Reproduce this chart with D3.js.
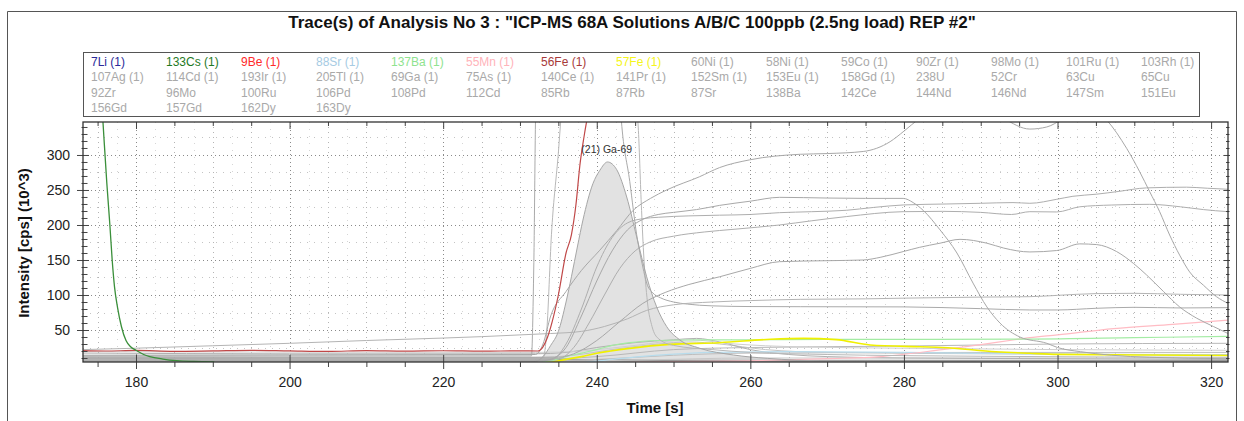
<!DOCTYPE html>
<html lang="en">
<head>
<meta charset="UTF-8" />
<title>Trace(s) of Analysis No 3</title>
<style>
  body { margin: 0; background: #fff; }
  svg { display: block; font-family: "Liberation Sans", Arial, sans-serif; }
  .tick text { font-size: 14px; fill: #222; }
  .tick line { stroke: #444; }
  .trace { fill: none; stroke-linejoin: round; }
</style>
</head>
<body>
<div id="chart"></div>
<script src="https://d3js.org/d3.v7.min.js"></script>
<script>
// ---- data: [time s, intensity 10^3 cps] ----
const cs133 = [[174.8,500],[175.7,347],[176.2,260],[176.6,200],[176.9,150],[177.2,112],[177.6,82],[178.1,55],[178.7,35],[179.3,26],[180,21],[181,15],[181.8,12],[183.5,8.5],[185.3,6.2],[187.5,5],[190.2,4.4]];
const fe56 = [[173.1,20.5],[176,20],[180,20.8],[185,19.6],[190,20.2],[195,20.9],[200,20.1],[205,19.4],[210,20.6],[215,19.8],[220,20.4],[225,19.7],[230,20.3],[232.3,20],[233,26],[233.6,40],[234.2,62],[235,100],[236,160],[236.7,186],[237.3,230],[237.8,285],[238.4,330],[239,370],[239.5,420]];
const ga69 = [[173.1,4.5],[231,4.5],[232,5],[233,12],[234,28],[235,48],[236,90],[236.7,126],[237.5,170],[238.2,207],[239.5,259],[240.4,278],[241.4,290],[242.6,279],[243.9,240],[245.2,183],[246.5,126],[247.8,83],[249.1,55],[250.8,36],[253.4,24],[257.8,14.3],[262.2,9.5],[266,7],[272,5.5],[285,4.8],[322.2,4.5]];
const ba137 = [[173.1,3],[232,3],[234,6],[236,12],[238,17],[240,22],[242,28],[244.3,32],[248,35],[251.7,35.7],[260,36],[270,36.5],[282,36.7],[296.4,37],[310,39],[322.2,41]];
const fe57 = [[173.1,2],[233,3],[236,8],[238,12],[240,16.7],[244.3,23.8],[249.5,29.5],[256,31.9],[262.6,36.7],[266.9,38],[271.2,36.2],[275.6,28.6],[282.1,26],[285,25],[292,19],[296.4,16.7],[300,15.2],[311.6,14.3],[322.2,13.5]];
const mn55 = [[173.1,3],[240,3],[250,5],[260,6],[270,9],[277,12],[285,22],[290,29],[294.2,35.7],[296.4,39],[300,43],[307.3,52],[315,58],[322.2,64]];
const sr88 = [[173.1,2],[236,2],[242,8],[248,14],[255,18],[265,19],[280,18],[295,16],[310,15],[322.2,14]];

const grayHi = [[173.1,14],[200,14.5],[232,15],[233,30],[234,70],[236,105],[238,135],[240.4,164],[242.6,192],[244.75,221],[247,238],[249.1,250],[253.4,269],[256,282],[259.9,293],[266.5,301],[270,302],[274.7,305],[278.2,319],[280,334],[282,352],[285,372],[290,372],[293,352],[296.4,337],[298.6,340],[300.7,352],[303.5,375],[306.4,350],[309,309.5],[310.7,276],[312,247.6],[313.3,219],[314.6,185.7],[315.9,157],[317.2,133],[319,114],[320.7,97.6],[322.2,88]];
const grayE = [[173.1,6],[233,6],[234,8],[236,25],[238,70],[240,120],[242,163],[244,193],[246,208],[248,215],[250,218],[253,222],[256,228],[260,234],[263.8,239.5],[270,238.5],[275,238],[279.9,238],[281.2,232],[282.5,221],[284.7,193],[286.9,160],[289,117],[290.8,83],[292.5,60],[295.1,40],[298.6,31],[300,25],[303,19],[307,14],[312,11],[322.2,9]];
const grayF = [[173.1,7],[234,7],[236,30],[238,80],[240,140],[242,182],[244,203],[246,209],[248,211],[252,213],[256,214],[260,215],[263.8,217.6],[268,219],[272.5,221],[276,225],[279.9,228.6],[285.6,230],[290,231],[294.2,232],[296.4,231],[299.9,236.7],[302,241],[305.1,244],[308,248],[311.6,253],[316.8,254],[319.5,252.5],[322.2,251]];
const grayG = [[173.1,9],[235,9],[237,25],[239,60],[241,100],[243,138],[245,163],[247,176],[250,184],[254,190],[258,194],[263.8,200],[268,206],[272.5,212],[279.9,219],[285,219.5],[290,218],[294,215],[296.4,219],[299.9,218.6],[302.9,226],[307,228.5],[312,229.5],[316,226],[319,222],[322.2,219]];
const grayC = [[173.1,11],[235,11],[237,16],[240,35],[243,62],[246,88],[249,104],[252,115],[256,126],[260,138],[263.8,147.6],[270,149],[274.7,150],[277,154],[279.9,162],[282,168],[284.7,174],[287.3,179.5],[290.8,174],[293,167],[296.4,161.5],[299.9,163.5],[302.9,173],[305.1,172],[307.7,162],[309.9,145],[311.6,128.6],[313.8,105],[315.9,83],[318.1,67],[320.3,55],[322.2,45]];
const grayB = [[173.1,22],[180,24],[190,27.5],[200,31],[210,35],[220,38.5],[225,40.5],[230,43],[234,45],[238,48],[241,55],[244,66],[246.5,78],[250,86],[255,90],[260,92],[266.5,93.8],[275,94.5],[280,95.5],[290,97],[296.4,97.6],[300,99.5],[305,102],[310,102.4],[316,101],[322.2,100]];
const grayA = [[173.1,13],[231.5,13],[231.8,140],[232.1,380],[243,380],[243.2,350],[244.3,262],[245.2,186],[246,140],[246.5,117],[247.3,103],[248.3,96],[250,90],[251.8,87],[255,84.5],[260,83.5],[266.5,83.3],[280,83],[290,80.5],[296.4,78.6],[300,78.6],[305,81],[310,82.4],[316,81.5],[322.2,81.9]];
const grayP = [[173.1,10],[233,10],[233.5,50],[234.1,186],[234.9,290],[235.7,380],[245,380],[245.4,340],[245.8,230],[246.1,160],[246.6,90],[247.2,55],[248,38],[250,28],[255,22],[260,18],[270,15],[290,12.5],[322.2,11]];
const low1 = [[173.1,17],[200,16],[232,16],[236,18],[240,25],[245,32],[250,36],[253,38],[256,33],[260,22],[265,15],[270,12],[280,10],[300,9],[322.2,8]];
const low2 = [[173.1,12],[232,11],[237,14],[242,22],[248,30],[252,33],[256,30],[262,22],[270,18],[290,16],[322.2,15]];
const low3 = [[173.1,8],[232,8],[240,12],[250,22],[260,25],[280,27],[300,30],[322.2,31]];
const low4 = [[173.1,6],[232,6],[240,8],[250,14],[260,17],[290,18],[322.2,18]];
const low5 = [[173.1,5],[232,5],[245,7],[260,10],[322.2,10]];
const low6 = [[173.1,9],[200,8],[232,8],[250,6],[322.2,6]];
const low7 = [[173.1,19],[232,18],[238,20],[245,28],[252,36],[258,30],[266,26],[280,24],[300,22],[322.2,21]];

const legendLabels = [
  "7Li (1)","133Cs (1)","9Be (1)","88Sr (1)","137Ba (1)","55Mn (1)","56Fe (1)","57Fe (1)","60Ni (1)","58Ni (1)","59Co (1)","90Zr (1)","98Mo (1)","101Ru (1)","103Rh (1)",
  "107Ag (1)","114Cd (1)","193Ir (1)","205Tl (1)","69Ga (1)","75As (1)","140Ce (1)","141Pr (1)","152Sm (1)","153Eu (1)","158Gd (1)","238U","52Cr","63Cu","65Cu",
  "92Zr","96Mo","100Ru","106Pd","108Pd","112Cd","85Rb","87Rb","87Sr","138Ba","142Ce","144Nd","146Nd","147Sm","151Eu",
  "156Gd","157Gd","162Dy","163Dy"];
const legendColors = {"7Li (1)":"#2a2a9a","133Cs (1)":"#1f7a1f","9Be (1)":"#ff2a2a","88Sr (1)":"#a6cbe3","137Ba (1)":"#8fe38f","55Mn (1)":"#ffb3ba","56Fe (1)":"#a83a3a","57Fe (1)":"#f5f51a"};

const xMajor = d3.range(180, 321, 20);
const yMajor = d3.range(50, 301, 50);

// ---- layout ----
const width = 1244, height = 421;
const plot = { left: 83, right: 1228, top: 122, bottom: 362 };

const svg = d3.select('#chart').append('svg')
  .attr('width', width).attr('height', height);

// outer window frame
svg.append('path')
  .attr('d', `M7.5,${height + 5}V11.5H1236.5V${height + 5}`)
  .attr('fill', 'none').attr('stroke', '#555').attr('stroke-width', 1);

svg.append('text')
  .attr('x', 632).attr('y', 28)
  .attr('text-anchor', 'middle')
  .attr('font-size', 17).attr('font-weight', 'bold').attr('fill', '#111')
  .text('Trace(s) of Analysis No 3 : "ICP-MS 68A Solutions A/B/C 100ppb (2.5ng load) REP #2"');

// legend box
const lg = svg.append('g');
lg.append('rect')
  .attr('x', 83.5).attr('y', 52.5).attr('width', 1116).attr('height', 64)
  .attr('fill', '#fff').attr('stroke', '#555');
lg.selectAll('text').data(legendLabels).enter().append('text')
  .attr('x', (d, i) => 91 + (i % 15) * 75)
  .attr('y', (d, i) => 66 + Math.floor(i / 15) * 15.3)
  .attr('font-size', 12)
  .attr('fill', d => legendColors[d] || '#a9a9a9')
  .text(d => d);

const x = d3.scaleLinear().domain([173.1, 322.2]).range([plot.left, plot.right]);
const y = d3.scaleLinear().domain([4.3, 347.1]).range([plot.bottom, plot.top]);

// grid
const grid = svg.append('g');
function vgrid(vals, color, dash) {
  grid.selectAll(null).data(vals).enter().append('line')
    .attr('x1', d => Math.round(x(d)) + 0.5).attr('x2', d => Math.round(x(d)) + 0.5)
    .attr('y1', plot.top).attr('y2', plot.bottom)
    .attr('stroke', color).attr('stroke-dasharray', dash);
}
function hgrid(vals, color, dash) {
  grid.selectAll(null).data(vals).enter().append('line')
    .attr('x1', plot.left).attr('x2', plot.right)
    .attr('y1', d => Math.round(y(d)) + 0.5).attr('y2', d => Math.round(y(d)) + 0.5)
    .attr('stroke', color).attr('stroke-dasharray', dash);
}
vgrid(d3.range(175, 322, 2.5).filter(d => d % 5 !== 0), '#d6d6d6', '1,6');
vgrid(d3.range(175, 322, 5).filter(d => d % 20 !== 0), '#b4b4b4', '1,4');
vgrid(xMajor, '#8a8a8a', '1,3');
hgrid(d3.range(25, 347, 50), '#c4c4c4', '1,6');
hgrid(yMajor, '#8a8a8a', '1,3');

// traces
svg.append('clipPath').attr('id', 'clip').append('rect')
  .attr('x', plot.left).attr('y', plot.top)
  .attr('width', plot.right - plot.left).attr('height', plot.bottom - plot.top);
const g = svg.append('g').attr('clip-path', 'url(#clip)');

const line = d3.line().x(d => x(d[0])).y(d => y(d[1])).curve(d3.curveMonotoneX);
const area = d3.area().x(d => x(d[0])).y0(plot.bottom).y1(d => y(d[1])).curve(d3.curveMonotoneX);

g.append('path').attr('d', area(ga69)).attr('fill', '#e2e2e2');

const traces = [
  [low6, '#9a9a9a', 2],
  [low5, '#c8c8c8', 1],
  [low4, '#bdbdbd', 1],
  [low3, '#b8b8b8', 1],
  [low2, '#c4c4c4', 1],
  [low1, '#b0b0b0', 1],
  [low7, '#cfcfcf', 1],
  [sr88, '#b8dcec', 1.2],
  [mn55, '#ffbcc4', 1.2],
  [ba137, '#a4eca4', 1.2],
  [fe57, '#f0f000', 1.6],
  [grayP, '#b8b8b8', 1],
  [grayA, '#aaaaaa', 1],
  [grayB, '#b4b4b4', 1],
  [grayC, '#a8a8a8', 1],
  [grayG, '#aeaeae', 1],
  [grayF, '#aeaeae', 1],
  [grayE, '#a8a8a8', 1],
  [grayHi, '#a8a8a8', 1],
  [ga69, '#a6a6a6', 1],
  [fe56, '#c04848', 1.2],
  [cs133, '#3a8f3a', 1.3]
];
g.selectAll('path.trace').data(traces).enter().append('path')
  .attr('class', 'trace')
  .attr('d', d => line(d[0]))
  .attr('stroke', d => d[1])
  .attr('stroke-width', d => d[2]);

svg.append('text')
  .attr('x', x(241.3)).attr('y', 153)
  .attr('text-anchor', 'middle').attr('font-size', 10.5).attr('fill', '#333')
  .text('(21) Ga-69');

// axes
const xMinor = d3.range(175, 322, 5).filter(d => d % 20 !== 0);
const yMinor = d3.range(10, 347, 10).filter(d => d % 50 !== 0);

const bx = svg.append('g').attr('transform', `translate(0,${plot.bottom})`)
  .call(d3.axisBottom(x).tickValues(xMajor).tickSize(7).tickPadding(8).tickFormat(d3.format('d')));
bx.selectAll('.tick line').attr('y1', -7);
svg.append('g').attr('transform', `translate(0,${plot.bottom})`)
  .call(d3.axisBottom(x).tickValues(xMinor).tickSize(5).tickFormat(''));

const ly = svg.append('g').attr('transform', `translate(${plot.left},0)`)
  .call(d3.axisLeft(y).tickValues(yMajor).tickSize(6).tickPadding(7));
ly.selectAll('.tick line').attr('x1', 6);
const lym = svg.append('g').attr('transform', `translate(${plot.left},0)`)
  .call(d3.axisLeft(y).tickValues(yMinor).tickSize(1.5).tickFormat(''));
lym.selectAll('.tick line').attr('x1', 4.5);

svg.append('g').attr('transform', `translate(0,${plot.top})`)
  .call(d3.axisTop(x).tickValues(xMajor).tickSize(-7).tickFormat(''));
svg.append('g').attr('transform', `translate(0,${plot.top})`)
  .call(d3.axisTop(x).tickValues(xMinor).tickSize(-4).tickFormat(''));
const ry = svg.append('g').attr('transform', `translate(${plot.right},0)`)
  .call(d3.axisRight(y).tickValues(yMajor).tickSize(2).tickFormat(''));
ry.selectAll('.tick line').attr('x1', -4);
const rym = svg.append('g').attr('transform', `translate(${plot.right},0)`)
  .call(d3.axisRight(y).tickValues(yMinor).tickSize(1.5).tickFormat(''));
rym.selectAll('.tick line').attr('x1', -2);

svg.selectAll('.domain').remove();
svg.append('rect')
  .attr('x', plot.left).attr('y', plot.top)
  .attr('width', plot.right - plot.left).attr('height', plot.bottom - plot.top)
  .attr('fill', 'none').attr('stroke', '#333').attr('stroke-width', 1.3);

svg.append('text')
  .attr('x', 655).attr('y', 413)
  .attr('text-anchor', 'middle').attr('font-size', 15).attr('font-weight', 'bold').attr('fill', '#111')
  .text('Time [s]');
svg.append('text')
  .attr('transform', 'translate(29,243) rotate(-90)')
  .attr('text-anchor', 'middle').attr('font-size', 15).attr('font-weight', 'bold').attr('fill', '#111')
  .text('Intensity [cps] (10^3)');
</script>
</body>
</html>
